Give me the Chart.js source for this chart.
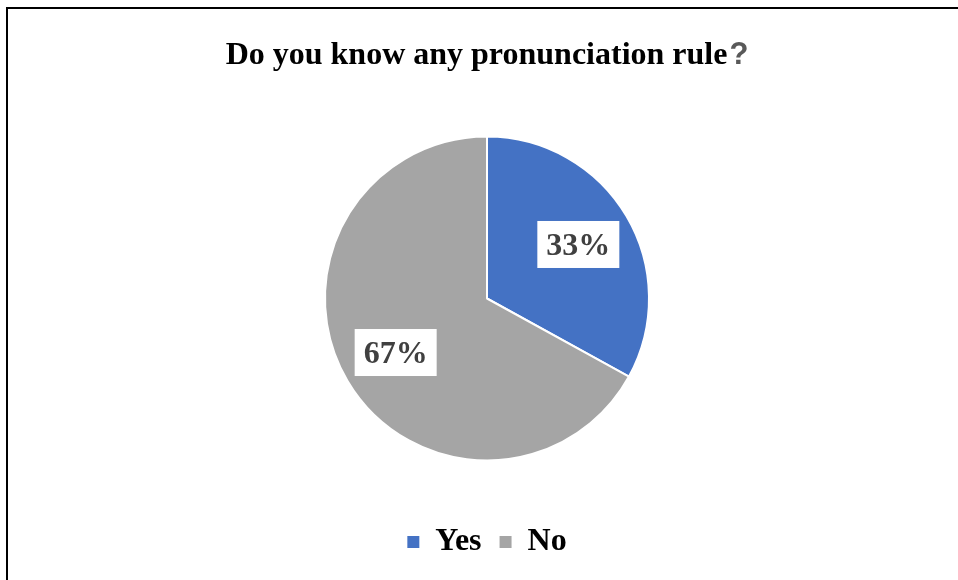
<!DOCTYPE html>
<html>
<head>
<meta charset="utf-8">
<script src="https://cdn.jsdelivr.net/npm/chart.js@4"></script>
<style>
  html, body { margin: 0; padding: 0; background: #fff; }
  #wrap { position: relative; width: 958px; height: 580px; overflow: hidden; }
  #frame { position: absolute; left: 6px; top: 7px; right: -10px; bottom: -10px;
           border-left: 2px solid #000; border-top: 2px solid #000; pointer-events: none; }
  canvas { position: absolute; left: 0; top: 0; }
</style>
</head>
<body>
<div id="wrap">
  <canvas id="c" width="958" height="580"></canvas>
  <div id="frame"></div>
</div>
<script>
const titleText = 'Do you know any pronunciation rule';
const titleMark = '?';
const categories = ['Yes', 'No'];
const shares = [33, 67];
const sliceColors = ['#4472C4', '#A5A5A5'];

const serif = '"Liberation Serif", "Times New Roman", serif';

// Title: serif words followed by a grey sans question mark
const titlePlugin = {
  id: 'splitTitle',
  afterDraw(chart) {
    const ctx = chart.ctx;
    ctx.save();
    const f1 = 'bold 32px ' + serif;
    const f2 = 'bold 31px "Liberation Sans", Arial, sans-serif';
    ctx.font = f1; const w1 = ctx.measureText(titleText).width;
    ctx.font = f2; const w2 = ctx.measureText(titleMark).width;
    const x0 = 487 - (w1 + w2 + 2) / 2;
    const y = 64;
    ctx.textBaseline = 'alphabetic';
    ctx.textAlign = 'left';
    ctx.font = f1; ctx.fillStyle = '#000';
    ctx.fillText(titleText, x0, y);
    ctx.font = f2; ctx.fillStyle = '#595959';
    ctx.fillText(titleMark, x0 + w1 + 2, y);
    ctx.restore();
  }
};

// Percentage labels in white boxes inside each slice
const labelPlugin = {
  id: 'sliceLabels',
  afterDatasetsDraw(chart) {
    const ctx = chart.ctx;
    const meta = chart.getDatasetMeta(0);
    const ds = chart.data.datasets[0];
    ctx.save();
    ctx.font = 'bold 32px ' + serif;
    ctx.textAlign = 'center';
    ctx.textBaseline = 'middle';
    meta.data.forEach((arc, i) => {
      const p = arc.getProps(['x', 'y', 'startAngle', 'endAngle', 'outerRadius'], true);
      const mid = (p.startAngle + p.endAngle) / 2;
      const r = p.outerRadius * 0.655;
      const cx = p.x + Math.cos(mid) * r;
      const cy = p.y + Math.sin(mid) * r;
      const txt = ds.data[i] + '%';
      const bw = 82, bh = 47;
      ctx.fillStyle = '#fff';
      ctx.fillRect(cx - bw / 2, cy - bh / 2, bw, bh);
      ctx.fillStyle = '#404040';
      ctx.fillText(txt, cx, cy + 2);
    });
    ctx.restore();
  }
};

new Chart(document.getElementById('c'), {
  type: 'pie',
  data: {
    labels: categories,
    datasets: [{
      data: shares,
      backgroundColor: sliceColors,
      borderColor: '#fff',
      borderWidth: 2
    }]
  },
  options: {
    responsive: false,
    animation: false,
    radius: 162,
    layout: { padding: { top: 89, bottom: 12, left: 16, right: 0 } },
    plugins: {
      title: { display: false },
      tooltip: { enabled: false },
      legend: {
        position: 'bottom',
        labels: {
          color: '#000',
          font: { family: serif, size: 32, weight: 'bold' },
          boxWidth: 12,
          boxHeight: 12,
          padding: 18,
          generateLabels(chart) {
            return Chart.overrides.pie.plugins.legend.labels.generateLabels(chart)
              .map(item => Object.assign(item, { lineWidth: 0, strokeStyle: 'rgba(0,0,0,0)' }));
          }
        }
      }
    }
  },
  plugins: [titlePlugin, labelPlugin]
});
</script>
</body>
</html>
